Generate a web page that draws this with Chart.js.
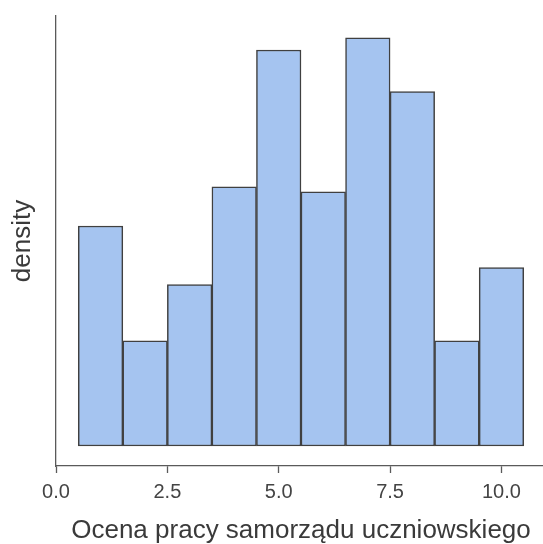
<!DOCTYPE html>
<html>
<head>
<meta charset="utf-8">
<script src="https://cdn.jsdelivr.net/npm/chart.js@4"></script>
<style>
  html, body { margin: 0; padding: 0; background: #fff; overflow: hidden; }
</style>
</head>
<body>
<canvas id="wykres" width="546" height="544"></canvas>
<script>
// srodki przedzialow histogramu (szerokosc 1)
const srodki = [1, 2, 3, 4, 5, 6, 7, 8, 9, 10];
const gestosc = [0.090, 0.043, 0.066, 0.106, 0.162, 0.104, 0.167, 0.145, 0.043, 0.073];
const tickiX = [0, 2.5, 5, 7.5, 10];

const tytulX = "Ocena pracy samorządu uczniowskiego";
const tytulY = "density";

const czcionka = "'Liberation Sans', Arial, sans-serif";
const kolorOsi = "#5a5a5a";

new Chart(wykres, {
  type: "bar",
  data: {
    datasets: [{
      data: srodki.map((x, i) => ({ x, y: gestosc[i] })),
      backgroundColor: "#a5c4f0",
      borderColor: "#404040",
      borderWidth: 1.5,
      borderSkipped: false,
      barPercentage: 1,
      categoryPercentage: 1
    }]
  },
  options: {
    responsive: false,
    animation: false,
    layout: { padding: { top: 16, left: 0, right: 0, bottom: 0 } },
    plugins: { legend: { display: false }, tooltip: { enabled: false } },
    scales: {
      x: {
        type: "linear",
        min: 0,
        max: 11,
        offset: false,
        afterBuildTicks: s => { s.ticks = tickiX.map(v => ({ value: v })); },
        afterFit: s => { s.height = 78; },
        grid: { display: true, offset: false, drawOnChartArea: false, drawTicks: true, tickLength: 7, tickColor: kolorOsi, tickWidth: 1.3 },
        border: { display: true, color: kolorOsi, width: 1.3 },
        ticks: {
          autoSkip: false, maxRotation: 0, padding: 7,
          color: "#444", font: { family: czcionka, size: 20 },
          callback: v => v.toFixed(1)
        },
        title: {
          display: true, text: tytulX, color: "#3a3a3a",
          font: { family: czcionka, size: 26, lineHeight: 1 },
          padding: { top: 0, bottom: 0 }
        }
      },
      y: {
        min: -0.0082,
        max: 0.1759,
        afterFit: s => { s.width = 56; },
        grid: { display: false },
        border: { display: true, color: kolorOsi, width: 1.3 },
        ticks: { display: false },
        title: {
          display: true, text: tytulY, color: "#3a3a3a",
          font: { family: czcionka, size: 26 },
          padding: { top: 7, bottom: 0 }
        }
      }
    }
  }
});
</script>
</body>
</html>
